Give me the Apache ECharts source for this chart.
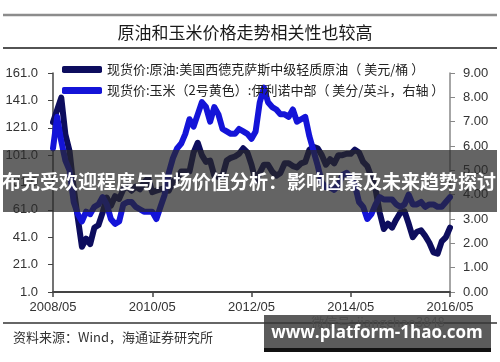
<!DOCTYPE html>
<html><head><meta charset="utf-8">
<script src="https://cdn.jsdelivr.net/npm/echarts@6/dist/echarts.min.js"></script>
<style>html,body{margin:0;padding:0;background:#fff}#c{width:500px;height:362px}</style>
</head><body><div id="c"></div>
<script>
const chartTitle = '原油和玉米价格走势相关性也较高';
const oilName = '现货价:原油:美国西德克萨斯中级轻质原油（ 美元/桶 ）';
const cornName = '现货价:玉米（2号黄色）:伊利诺中部（ 美分/英斗，右轴 ）';
const sourceText = '资料来源：Wind，海通证券研究所';
const bannerText = '布克受欢迎程度与市场价值分析：影响因素及未来趋势探讨';
const watermarkText = 'www.platform-1hao.com';
const wechatText = '微信号: jiangchao3848';

// monthly categories 2008/05 .. 2016/05
const months = [];
for (let y = 2008, m = 5; y < 2016 || (y === 2016 && m <= 5); ) {
  months.push(y + '/' + (m < 10 ? '0' + m : m));
  m++; if (m > 12) { m = 1; y++; }
}
const xTickLabels = ['2008/05', '2010/05', '2012/05', '2014/05', '2016/05'];

// WTI crude, USD/bbl (left axis)
const oilPrice = [
  125,134,143,116,104,77,55,34,
  40,36,48,50,59,70,64,71,69,76,78,75,
  78,76,81,84,74,75,76,77,75,82,84,89,
  89,89,103,110,101,96,97,86,85,86,97,99,
  100,102,106,103,94,82,88,94,94,89,86,88,
  95,95,93,92,95,96,105,107,106,101,94,98,
  95,101,101,102,102,105,103,96,93,85,76,59,
  47,51,48,54,59,60,51,41,45,46,42,37,
  30,29,38,41,48
];
// Corn, central Illinois (right axis)
const cornPrice = [
  5.9,7.2,6.2,5.4,5.0,3.7,3.2,2.9,
  3.3,3.2,3.5,3.6,3.9,3.6,3.0,2.8,2.9,3.6,3.7,3.7,
  3.5,3.4,3.3,3.3,3.3,3.0,3.5,4.0,4.9,5.5,5.9,6.1,
  6.5,7.1,6.8,7.3,7.8,7.6,7.0,7.6,7.3,6.7,6.6,6.5,
  6.5,6.7,6.6,6.5,6.3,6.6,7.8,8.4,7.8,7.6,7.5,7.3,
  7.3,7.2,7.5,7.0,7.1,7.2,6.4,5.8,5.2,4.5,4.3,4.3,
  4.2,4.4,4.8,4.9,4.7,4.4,3.7,3.5,3.0,3.2,3.6,3.9,
  3.8,3.8,3.8,3.6,3.5,3.6,4.0,3.6,3.6,3.7,3.5,3.6,
  3.6,3.5,3.5,3.7,3.9
];
const leftTicks = [1,21,41,61,81,101,121,141,161];
const rightTicks = [0,1,2,3,4,5,6,7,8,9];

const FONT = '"Liberation Sans", Arial, sans-serif';
const CJK = '"Noto Sans CJK SC", sans-serif';
const chart = echarts.init(document.getElementById('c'), null, {renderer: 'canvas'});
const isTick = (i, v) => xTickLabels.indexOf(v) >= 0;

chart.setOption({
  animation: false,
  backgroundColor: '#fff',
  grid: {left: 53, right: 50, top: 73, bottom: 70, containLabel: false},
  legend: {
    left: 57, top: 57, orient: 'vertical', icon: 'roundRect',
    itemWidth: 40, itemHeight: 7, itemGap: 6,
    textStyle: {fontSize: 13, fontFamily: CJK, color: '#222', lineHeight: 15},
    data: [oilName, cornName]
  },
  xAxis: {
    type: 'category', data: months, boundaryGap: false,
    axisLine: {lineStyle: {color: '#444', width: 2}},
    axisTick: {interval: isTick, length: 5, lineStyle: {color: '#444', width: 1.5}},
    axisLabel: {interval: isTick, margin: 9, fontSize: 13, fontFamily: FONT, color: '#333'},
    splitLine: {show: false}
  },
  yAxis: [{
    type: 'value', min: 1, max: 161, position: 'left',
    axisLine: {show: true, lineStyle: {color: '#444', width: 1.5}},
    axisTick: {show: true, length: 5, customValues: leftTicks, lineStyle: {color: '#444'}},
    axisLabel: {customValues: leftTicks, margin: 15, fontSize: 13, fontFamily: FONT, color: '#333',
      formatter: v => v.toFixed(1)},
    splitLine: {show: false}
  }, {
    type: 'value', min: 0, max: 9, interval: 1, position: 'right',
    axisLine: {show: true, lineStyle: {color: '#888', width: 1.5}},
    axisTick: {show: true, length: 5, lineStyle: {color: '#888'}},
    axisLabel: {margin: 13, fontSize: 13, fontFamily: FONT, color: '#333',
      formatter: v => v.toFixed(2)},
    splitLine: {show: false}
  }],
  series: [{
    name: oilName, type: 'line', data: oilPrice, yAxisIndex: 0,
    showSymbol: false, color: '#0d0d5e',
    lineStyle: {width: 6, color: '#0d0d5e', join: 'round', cap: 'round'}, z: 2
  }, {
    name: cornName, type: 'line', data: cornPrice, yAxisIndex: 1,
    showSymbol: false, color: '#1414d8',
    lineStyle: {width: 6, color: '#1414d8', join: 'round', cap: 'round'}, z: 3
  }],
  graphic: {elements: [
    {type: 'line', shape: {x1: 3, y1: 15, x2: 497, y2: 15}, style: {stroke: '#8c8c8c', lineWidth: 2.5}},
    {type: 'text', x: 245, y: 33, style: {text: chartTitle, fontSize: 17, fontFamily: CJK,
      fill: '#1a1a1a', align: 'center', verticalAlign: 'middle'}},
    {type: 'line', shape: {x1: 3, y1: 48, x2: 497, y2: 48}, style: {stroke: '#1a1a1a', lineWidth: 1.5}},
    {type: 'line', shape: {x1: 3, y1: 323, x2: 497, y2: 323}, style: {stroke: '#333', lineWidth: 1.5}},
    {type: 'text', x: 13, y: 337, style: {text: sourceText, fontSize: 13, fontFamily: CJK,
      fill: '#333', align: 'left', verticalAlign: 'middle'}},
    {type: 'text', x: 378, y: 322, z: 50, style: {text: wechatText, fontSize: 13, fontFamily: CJK,
      fill: '#aaa', align: 'center', verticalAlign: 'middle'}},
    {type: 'rect', z: 100, shape: {x: 3, y: 150, width: 494, height: 62},
      style: {fill: 'rgba(40,40,40,0.72)'}},
    {type: 'text', z: 101, x: 249, y: 182, style: {text: bannerText, fontSize: 19, fontWeight: 'bold',
      fontFamily: CJK, fill: '#fff', align: 'center', verticalAlign: 'middle'}},
    {type: 'rect', z: 100, shape: {x: 264, y: 315, width: 227, height: 33},
      style: {fill: 'rgba(55,55,55,0.82)'}},
    {type: 'rect', z: 100, shape: {x: 264, y: 348, width: 227, height: 4},
      style: {fill: '#111'}},
    {type: 'text', z: 101, x: 377, y: 333, style: {text: watermarkText, fontSize: 17, fontWeight: 'bold',
      fontFamily: '"Open Sans", "DejaVu Sans", sans-serif', fill: '#fff', align: 'center', verticalAlign: 'middle'}}
  ]}
});
</script></body></html>
